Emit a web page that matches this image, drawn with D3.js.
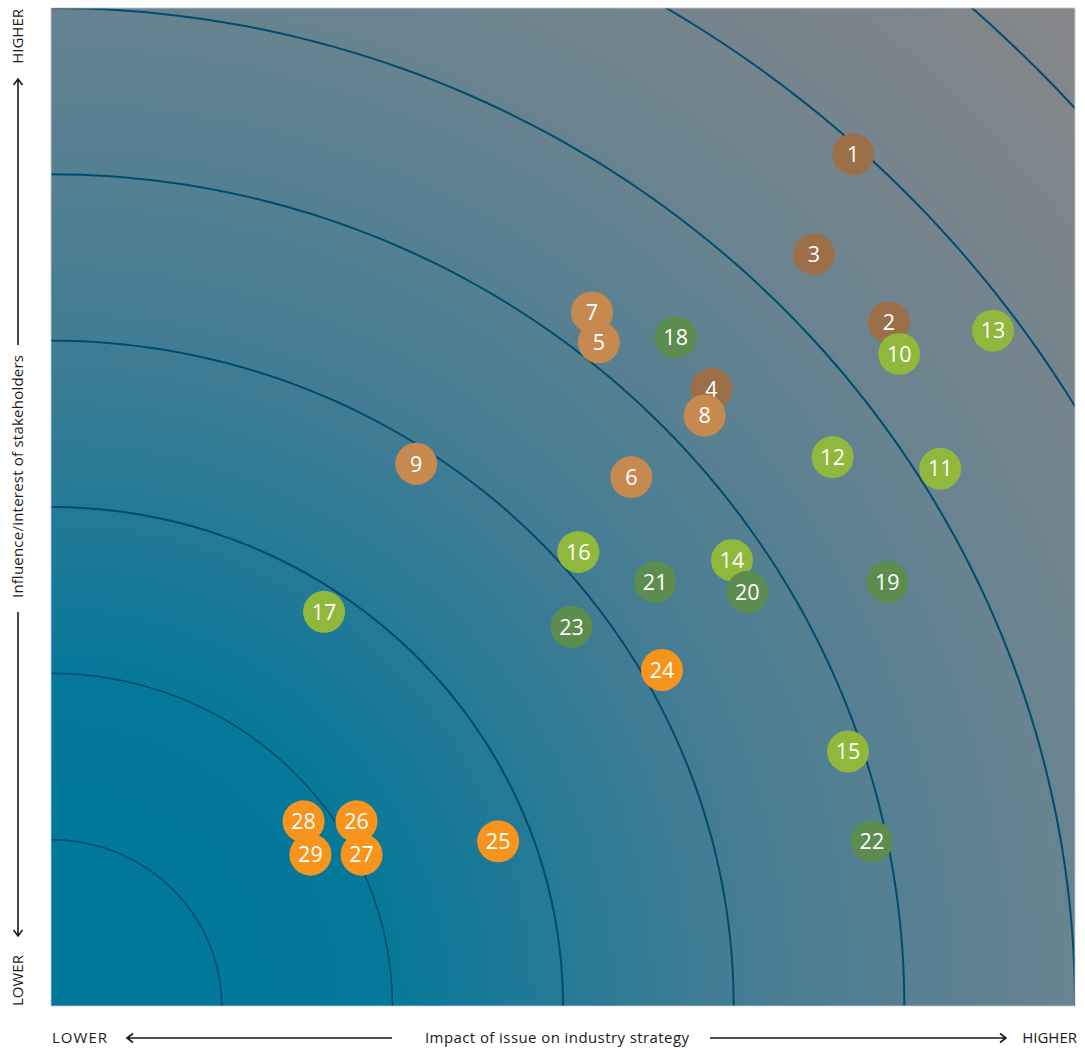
<!DOCTYPE html>
<html><head><meta charset="utf-8">
<script src="https://cdn.jsdelivr.net/npm/d3@7"></script>
<style>html,body{margin:0;padding:0;background:#fff;}svg{display:block;font-family:"Open Sans",sans-serif;}</style>
</head><body>
<svg id="chart" width="1085" height="1050"></svg>
<script>
// ---- data ----
const ids = [1,2,3,4,5,6,7,8,9,10,11,12,13,14,15,16,17,18,19,20,21,22,23,24,25,26,27,28,29];
const groups = ["A","A","A","A","B","B","B","B","B","C","C","C","C","C","C","C","C","D","D","D","D","D","D","E","E","E","E","E","E"];
const impact = [4.70,4.91,4.47,3.87,3.21,3.40,3.17,3.83,2.14,4.97,5.21,4.58,5.52,3.99,4.67,3.09,1.60,3.66,4.90,4.08,3.54,4.81,3.05,3.58,2.62,1.79,1.82,1.48,1.52];
const influence = [5.12,4.11,4.52,3.71,3.99,3.18,4.17,3.55,3.26,3.92,3.23,3.30,4.06,2.68,1.53,2.73,2.37,4.02,2.55,2.49,2.55,0.99,2.28,2.02,0.99,1.11,0.91,1.11,0.91];
const ringRadii = [1,2,3,4,5,6,7,8.07];
const groupNames = ["A","B","C","D","E"];
const groupColors = ["#9b6f47","#c68a50","#8fb83c","#5d8c4f","#f7941d"];
const axisX = {low:"LOWER", title:"Impact of issue on industry strategy", high:"HIGHER"};
const axisY = {low:"LOWER", title:"Influence/interest of stakeholders", high:"HIGHER"};

// ---- layout ----
const svg = d3.select("#chart");
const L = 51, R = 1075, T = 8, B = 1006;
const x = d3.scaleLinear().domain([0,6]).range([L,R]);
const y = d3.scaleLinear().domain([0,6]).range([B,T]);
const color = d3.scaleOrdinal().domain(groupNames).range(groupColors);

const defs = svg.append("defs");
const grad = defs.append("radialGradient").attr("id","bg")
  .attr("gradientUnits","userSpaceOnUse").attr("cx",L).attr("cy",B).attr("r",1440);
[[0,"#00779a"],[0.22,"#03789a"],[0.45,"#3e7c94"],[0.7,"#688390"],[1,"#888789"]]
  .forEach(([o,c])=>grad.append("stop").attr("offset",o).attr("stop-color",c));
defs.append("clipPath").attr("id","clip").append("rect")
  .attr("x",L).attr("y",T).attr("width",R-L).attr("height",B-T);

svg.append("rect").attr("x",L).attr("y",T).attr("width",R-L).attr("height",B-T)
  .attr("fill","url(#bg)");

const g = svg.append("g").attr("clip-path","url(#clip)");
const thetas = d3.range(0,91).map(d=>d*Math.PI/180);
const line = d3.line().x(d=>d[0]).y(d=>d[1]);
g.selectAll("path.ring").data(ringRadii).join("path").attr("class","ring")
  .attr("d",r=>line(thetas.map(t=>[x(r*Math.cos(t)),y(r*Math.sin(t))])))
  .attr("fill","none").attr("stroke","#004c6c").attr("stroke-width",(r,i)=>i<2?1.5:2);

svg.append("rect").attr("x",L).attr("y",T).attr("width",R-L).attr("height",B-T)
  .attr("fill","none").attr("stroke","#c8c8c8").attr("stroke-width",0.8);

// ---- bubbles ----
const data = ids.map((id,i)=>({id, group:groups[i], x:impact[i], y:influence[i]}));
const nodes = svg.append("g").selectAll("g").data(data).join("g")
  .attr("transform",d=>`translate(${x(d.x)},${y(d.y)})`);
nodes.append("circle").attr("r",21).attr("fill",d=>color(d.group));
nodes.append("text").text(d=>d.id).attr("text-anchor","middle").attr("dy","0.36em")
  .attr("fill","#fff").attr("font-size",21.5);

// ---- axis labels with arrows ----
const ax = svg.append("g").attr("font-size",15).attr("fill","#1a1a1a");
const yb = 1038;
ax.append("text").attr("x",52).attr("y",yb+5).attr("textLength",55).text(axisX.low);
ax.append("text").attr("x",425).attr("y",yb+5).attr("textLength",264).text(axisX.title);
ax.append("text").attr("x",1077).attr("y",yb+5).attr("text-anchor","end").text(axisX.high);
const arrowStyle = s=>s.attr("fill","none").attr("stroke","#1a1a1a").attr("stroke-width",1.6);
arrowStyle(ax.append("path").attr("d",`M127,${yb}H392 M133,${yb-4.5}L127,${yb}L133,${yb+4.5}`));
arrowStyle(ax.append("path").attr("d",`M710,${yb}H1006 M1000,${yb-4.5}L1006,${yb}L1000,${yb+4.5}`));

const xl = 18;
const vy = ax.append("g");
vy.append("text").attr("transform",`translate(${xl+5},1006) rotate(-90)`).text(axisY.low);
vy.append("text").attr("transform",`translate(${xl+5},598) rotate(-90)`).attr("textLength",243).text(axisY.title);
vy.append("text").attr("transform",`translate(${xl+5},9) rotate(-90)`).attr("text-anchor","end").text(axisY.high);
arrowStyle(ax.append("path").attr("d",`M${xl},79V345 M${xl-4.5},85L${xl},79L${xl+4.5},85`));
arrowStyle(ax.append("path").attr("d",`M${xl},612V936 M${xl-4.5},930L${xl},936L${xl+4.5},930`));
</script>
</body></html>
